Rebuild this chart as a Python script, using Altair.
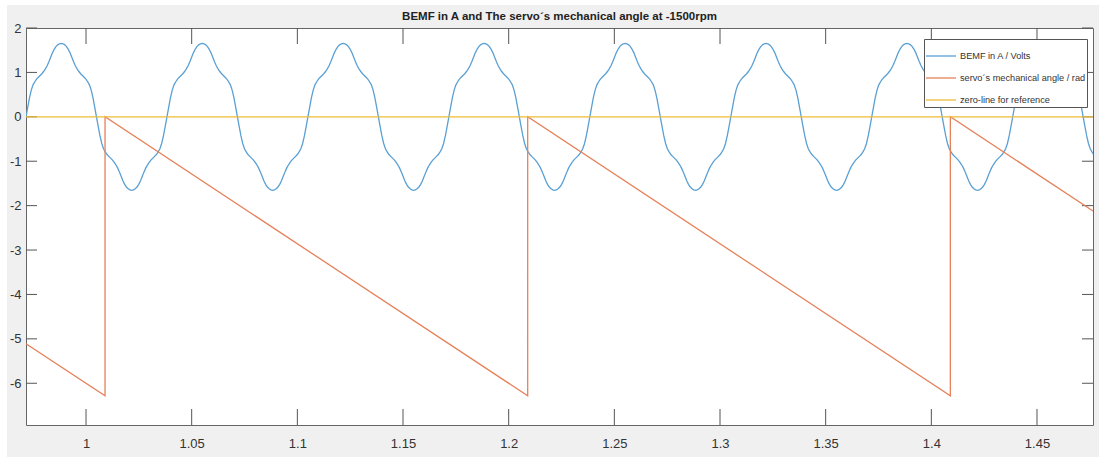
import altair as alt
import pandas as pd

# ---- data -------------------------------------------------------------
# One electrical cycle of the phase-A back-EMF (volts), 80 samples per cycle
bemf_cycle_volts = [
    0.00, 0.22, 0.43, 0.60, 0.72, 0.79, 0.85, 0.89, 0.93, 0.97,
    1.02, 1.08, 1.15, 1.24, 1.34, 1.44, 1.52, 1.58, 1.62, 1.645,
    1.655, 1.645, 1.62, 1.58, 1.52, 1.44, 1.34, 1.24, 1.15, 1.08,
    1.02, 0.97, 0.93, 0.89, 0.85, 0.79, 0.72, 0.60, 0.43, 0.22,
    0.00, -0.22, -0.43, -0.60, -0.72, -0.79, -0.85, -0.89, -0.93, -0.97,
    -1.02, -1.08, -1.15, -1.24, -1.34, -1.44, -1.52, -1.58, -1.62, -1.645,
    -1.655, -1.645, -1.62, -1.58, -1.52, -1.44, -1.34, -1.24, -1.15, -1.08,
    -1.02, -0.97, -0.93, -0.89, -0.85, -0.79, -0.72, -0.60, -0.43, -0.22,
]
# rising zero crossings of the back-EMF (s)
bemf_cycle_start_s = [0.9716, 1.0383, 1.1050, 1.1717, 1.2384, 1.3051, 1.3718, 1.4385]
bemf_cycle_period_s = 0.0667

# servo mechanical angle (rad), sawtooth wrapping every 0.2 s
angle_t = [0.9716, 1.009, 1.009, 1.209, 1.209, 1.409, 1.409, 1.4765]
angle_v = [-5.11, -6.283, 0.0, -6.283, 0.0, -6.283, 0.0, -2.12]

# zero reference
zero_t = [0.9716, 1.4765]
zero_v = [0.0, 0.0]

x_ticks = [1.0, 1.05, 1.1, 1.15, 1.2, 1.25, 1.3, 1.35, 1.4, 1.45]
y_ticks = [-6, -5, -4, -3, -2, -1, 0, 1, 2]

series_names = [
    "BEMF in A / Volts",
    "servo´s mechanical angle / rad",
    "zero-line for reference",
]
series_colors = ["#5aa0d4", "#e5825a", "#efbb38"]

title_text = "BEMF in A and The servo´s mechanical angle at -1500rpm"

X_DOMAIN = [0.9716, 1.4765]
Y_DOMAIN = [-6.94, 2.0]
W, H = 1067, 397

# ---- build the long table ----------------------------------------------
rows = []
idx = 0
n = len(bemf_cycle_volts)
for start in bemf_cycle_start_s:
    for k, v in enumerate(bemf_cycle_volts):
        rows.append({"t": start + bemf_cycle_period_s * k / n, "v": v,
                     "series": series_names[0], "idx": idx})
        idx += 1
# close the last cycle
rows.append({"t": bemf_cycle_start_s[-1] + bemf_cycle_period_s, "v": 0.0,
             "series": series_names[0], "idx": idx})
idx += 1
for t, v in zip(angle_t, angle_v):
    rows.append({"t": t, "v": v, "series": series_names[1], "idx": idx})
    idx += 1
for t, v in zip(zero_t, zero_v):
    rows.append({"t": t, "v": v, "series": series_names[2], "idx": idx})
    idx += 1
df = pd.DataFrame(rows)

FONT = "Liberation Sans, Arial, Helvetica"
TXT = "#333333"
LABEL = "'' + datum.value"

xscale = alt.Scale(domain=X_DOMAIN, nice=False, zero=False)
yscale = alt.Scale(domain=Y_DOMAIN, nice=False, zero=False)

lines = alt.Chart(df).mark_line(strokeWidth=1.3, clip=True).encode(
    x=alt.X("t:Q", scale=xscale,
            axis=alt.Axis(values=x_ticks, title=None, ticks=False, domain=False,
                          grid=False, labelPadding=12, labelFontSize=13,
                          labelFont=FONT, labelColor=TXT, labelFlush=False,
                          labelExpr=LABEL)),
    y=alt.Y("v:Q", scale=yscale,
            axis=alt.Axis(values=y_ticks, title=None, ticks=False, domain=False,
                          grid=False, labelPadding=5, labelFontSize=13,
                          labelFont=FONT, labelColor=TXT, labelFlush=False,
                          labelExpr=LABEL)),
    color=alt.Color("series:N",
                    scale=alt.Scale(domain=series_names, range=series_colors),
                    legend=alt.Legend(
                        title=None, orient="none", legendX=898, legendY=11,
                        symbolType="stroke", symbolSize=900, symbolStrokeWidth=1.3,
                        labelFont=FONT, labelFontSize=9.2, labelColor=TXT,
                        labelLimit=400,
                        strokeColor="#555555", fillColor="white",
                        padding=1, rowPadding=-12, labelOffset=3,
                        cornerRadius=0)),
    detail="series:N",
    order="idx:Q",
)

xt = pd.DataFrame({"x": x_ticks})
yt = pd.DataFrame({"y": y_ticks})
tick_style = dict(color="#555555", strokeWidth=1)

x_bottom = alt.Chart(xt).mark_rule(**tick_style).encode(
    x=alt.X("x:Q", scale=xscale), y=alt.value(H), y2=alt.value(H - 16))
x_top = alt.Chart(xt).mark_rule(**tick_style).encode(
    x=alt.X("x:Q", scale=xscale), y=alt.value(0), y2=alt.value(16))
y_left = alt.Chart(yt).mark_rule(**tick_style).encode(
    y=alt.Y("y:Q", scale=yscale), x=alt.value(0), x2=alt.value(11))
y_right = alt.Chart(yt).mark_rule(**tick_style).encode(
    y=alt.Y("y:Q", scale=yscale), x=alt.value(W), x2=alt.value(W - 11))

# thin white page margin at the top-left of the figure
one = pd.DataFrame({"a": [0]})
margin_left = alt.Chart(one).mark_rect(color="white").encode(
    x=alt.value(-26), x2=alt.value(-19), y=alt.value(-28), y2=alt.value(H + 32))
margin_top = alt.Chart(one).mark_rect(color="white").encode(
    x=alt.value(-26), x2=alt.value(W + 6), y=alt.value(-28), y2=alt.value(-23))

title = alt.Chart(pd.DataFrame({"label": [title_text]})).mark_text(
    font=FONT, fontSize=11.5, fontWeight="bold", color="#222222",
    align="center", baseline="middle"
).encode(x=alt.value(W / 2), y=alt.value(-11), text="label:N")

chart = alt.layer(
    margin_left, margin_top, title, x_bottom, x_top, y_left, y_right, lines
).properties(
    width=W, height=H,
    autosize=alt.AutoSizeParams(type="none"),
    padding={"left": 26, "top": 28, "right": 6, "bottom": 32},
    background="#f0f0f0",
).configure_view(
    fill="white", stroke="#666666", strokeWidth=1
)

chart.save("out.html", embed_options={"renderer": "svg", "actions": False})
